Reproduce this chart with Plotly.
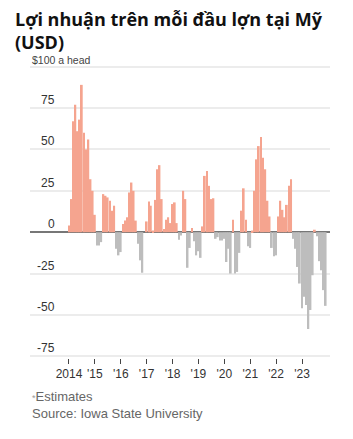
import plotly.graph_objects as go
import pandas as pd

# Monthly profit per head (USD), Jan 2014 – Dec 2023
v2014 = [4, 20, 67, 77, 61, 68, 89, 60, 50, 56, 32, 25]
v2015 = [10.5, -8, -8, -6, 23, 22, 21, 19, 13, 16, -10, -14]
v2016 = [-12, 5, 7, 9, 24, 30, 25, 7, -7, -17, -24.5, 0]
v2017 = [6.5, 18.5, 16, 1, 19.5, 38, 40.5, 20, 2, 7.5, 9, 5.5]
v2018 = [17, 18, 5.5, -4.5, -2, 25, 20, -21.5, -9.5, 2.5, -5.5, -14]
v2019 = [-11.5, -15.5, 3.5, 34, 37, 28, 20, 20.5, -4, -3, -5, -5]
v2020 = [-4, -18, -10, -25, 7.5, -25, -24, -12.5, 13, 26.5, 7.5, -8.5]
v2021 = [-9.5, 1, 25, 44, 52, 57.5, 45, 38, 19, 9.5, -9.5, -14.5]
v2022 = [-14, 9.5, 19, 13.5, 9, 16.5, 28, 32, -4, -10, -21, -31]
v2023 = [-46, -39, -44, -58.5, -47, -26, 1.5, -2.5, -17.5, -23, -35, -44.5]

years = [2014, 2015, 2016, 2017, 2018, 2019, 2020, 2021, 2022, 2023]
year_labels = ["2014", "'15", "'16", "'17", "'18", "'19", "'20", "'21", "'22", "'23"]
y_ticks = [100, 75, 50, 25, 0, -25, -50, -75]
y_labels = ["$100 a head", "75", "50", "25", "0", "-25", "-50", "-75"]
title_lines = ["Lợi nhuận trên mỗi đầu lợn tại Mỹ", "(USD)"]

values = v2014 + v2015 + v2016 + v2017 + v2018 + v2019 + v2020 + v2021 + v2022 + v2023
months = pd.date_range("2014-01-01", periods=len(values), freq="MS")

POS = "#f5a48f"
NEG = "#bdbdbd"
colors = [POS if v >= 0 else NEG for v in values]

FONT = "Liberation Sans, Arial, sans-serif"
TFONT = "Open Sans, Noto Sans, sans-serif"

fig = go.Figure()
fig.add_trace(go.Bar(
    x=months, y=values,
    marker=dict(color=colors, line=dict(width=0)),
    width=0.82 * 30.44 * 86400000,
    hoverinfo="skip",
))

L, R, T, B = 30, 23, 65, 81
W, H = 353, 439
pw = W - L - R
ph = H - T - B


def py(px_y):
    return (T + ph - px_y) / ph


def pxx(px_x):
    return (px_x - L) / pw


annotations = []
for v, lab in zip(y_ticks, y_labels):
    if "head" in lab:
        annotations.append(dict(x=0, xref="paper", y=v, yref="y", text=lab,
                                xanchor="left", yanchor="bottom", showarrow=False,
                                font=dict(family=FONT, size=10.5, color="#444"), yshift=-1))
    else:
        annotations.append(dict(x=pxx(57), xref="paper", y=v, yref="y", text=lab,
                                xanchor="right", yanchor="bottom", showarrow=False,
                                font=dict(family=FONT, size=12, color="#333"), yshift=-1))

annotations.append(dict(x=pxx(13), xref="paper", y=py(30.5), yref="paper",
                        text="<b>" + "<br>".join(title_lines) + "</b>",
                        xanchor="left", yanchor="middle", align="left",
                        showarrow=False,
                        font=dict(family=TFONT, size=18, color="#111")))

annotations.append(dict(x=0, xref="paper", y=py(396), yref="paper",
                        text="<span style='font-size:9px;color:#999'>*</span>Estimates",
                        xanchor="left", yanchor="middle", showarrow=False,
                        font=dict(family=FONT, size=13, color="#666")))
annotations.append(dict(x=0, xref="paper", y=py(413), yref="paper",
                        text="Source: Iowa State University",
                        xanchor="left", yanchor="middle", showarrow=False,
                        font=dict(family=FONT, size=13, color="#666")))

fig.update_layout(
    width=W, height=H,
    margin=dict(l=L, r=R, t=T, b=B),
    paper_bgcolor="white", plot_bgcolor="white",
    showlegend=False,
    bargap=0.15,
    xaxis=dict(
        type="date",
        range=["2012-06-30", "2024-01-31"],
        tickvals=[f"{y}-01-01" for y in years],
        ticktext=year_labels,
        ticks="outside", ticklen=5, tickwidth=1, tickcolor="#444",
        showgrid=False, showline=False, zeroline=False,
        tickfont=dict(family=FONT, size=12, color="#333"),
        fixedrange=True,
    ),
    yaxis=dict(
        range=[-76, 101],
        tickvals=y_ticks,
        showticklabels=False,
        showgrid=True, gridcolor="#ececec", gridwidth=1.5,
        zeroline=True, zerolinecolor="#777", zerolinewidth=2,
        showline=False, ticks="",
        fixedrange=True,
    ),
    annotations=annotations,
)

fig.write_html("out.html", config={"displayModeBar": False})
